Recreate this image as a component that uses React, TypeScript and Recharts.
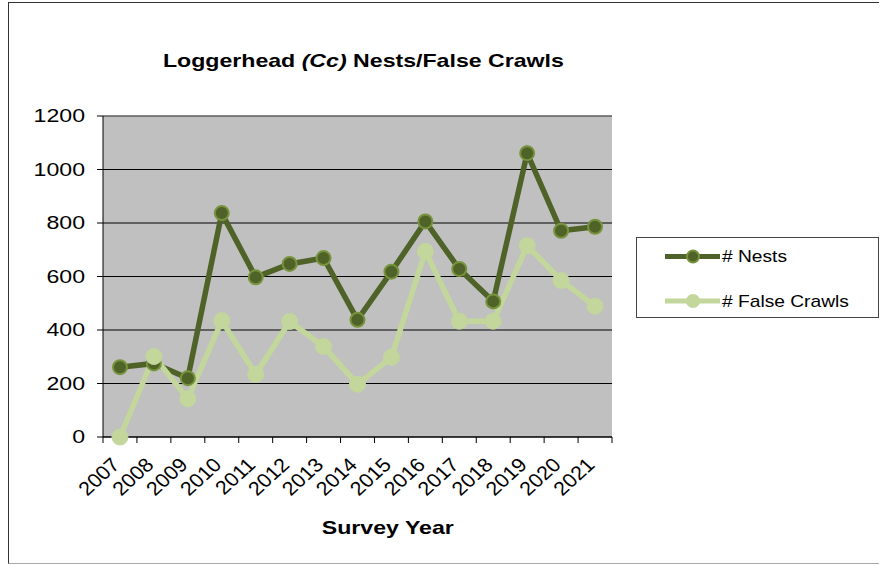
import React from 'react';
import { LineChart, Line, XAxis, YAxis, CartesianGrid, Legend, ReferenceLine } from 'recharts';

const years = ['2007', '2008', '2009', '2010', '2011', '2012', '2013', '2014', '2015', '2016', '2017', '2018', '2019', '2020', '2021'];
const nests = [261, 275, 220, 837, 597, 647, 669, 438, 618, 806, 628, 507, 1061, 771, 786];
const falseCrawls = [0, 301, 143, 435, 234, 432, 338, 197, 298, 694, 433, 433, 715, 585, 489];
const yTicks = [0, 200, 400, 600, 800, 1000, 1200];
const seriesNames = ['# Nests', '# False Crawls'];

const data = years.map((y, i) => ({ year: y, nests: nests[i], falseCrawls: falseCrawls[i] }));

const W = 870;
const H = 560;
const M = { top: 113, right: 267, left: 0, bottom: 0 };
const YW = 94;
const PLOT_W = W - M.left - M.right - YW;
const SX = 1.25;
const FONT = '"Liberation Sans", Arial, sans-serif';
const DARK = '#4F6228';
const DARK_EDGE = '#77933C';
const LIGHT = '#C3D69B';

const XTick = (props: any) => {
  const { x, y, payload, index } = props;
  const bw = PLOT_W / years.length;
  const lx = x - bw / 2;
  return (
    <g>
      <line x1={lx} x2={lx} y1={y} y2={y + 6} stroke="#000" strokeWidth={1} />
      {index === years.length - 1 && (
        <line x1={x + bw / 2} x2={x + bw / 2} y1={y} y2={y + 6} stroke="#000" strokeWidth={1} />
      )}
      <text
        transform={`translate(${x + 1},${y + 29}) scale(1.1,1) rotate(-45)`}
        textAnchor="end"
        fontSize={19.5}
        fill="#000"
        fontFamily={FONT}
      >
        {payload.value}
      </text>
    </g>
  );
};

const YTick = (props: any) => {
  const { x, y, payload } = props;
  return (
    <text
      transform={`translate(${x - 10},${y}) scale(${SX},1)`}
      textAnchor="end"
      dy="0.35em"
      fontSize={18.5}
      fill="#000"
      fontFamily={FONT}
    >
      {payload.value}
    </text>
  );
};

const LegendBox = () => {
  const colors = [DARK, LIGHT];
  const edges = [DARK_EDGE, LIGHT];
  const rows = [19.5, 64];
  return (
    <svg width={243} height={81} style={{ display: 'block' }}>
      <rect x={0.5} y={0.5} width={242} height={80} fill="#fff" stroke="#444" strokeWidth={1} />
      {seriesNames.map((n, i) => (
        <g key={n}>
          <line x1={29} x2={84} y1={rows[i]} y2={rows[i]} stroke={colors[i]} strokeWidth={5} />
          <circle cx={57} cy={rows[i]} r={6} fill={colors[i]} stroke={edges[i]} strokeWidth={2} />
          <text
            transform={`translate(86,${rows[i]}) scale(1.2,1)`}
            dy="0.35em"
            fontSize={16}
            fill="#000"
            fontFamily={FONT}
          >
            {n}
          </text>
        </g>
      ))}
    </svg>
  );
};

export default function App() {
  return (
    <div
      style={{
        position: 'fixed',
        left: 8,
        top: 2,
        width: W,
        height: H,
        borderTop: '1px solid #333',
        borderLeft: '1px solid #333',
        borderBottom: '1px solid #aaa',
        background: '#fff',
        fontFamily: FONT,
      }}
    >
      <div
        style={{
          position: 'absolute',
          left: 0,
          top: 49,
          width: 2 * 354.5,
          textAlign: 'center',
          fontSize: 18.5,
          lineHeight: '18.5px',
          fontWeight: 'bold',
          color: '#000',
          whiteSpace: 'nowrap',
        }}
      >
        <span style={{ display: 'inline-block', transform: `scaleX(${SX})` }}>
          Loggerhead <i>(Cc)</i> Nests/False Crawls
        </span>
      </div>
      <div
        style={{
          position: 'absolute',
          left: 0,
          top: 516,
          width: 2 * 379,
          textAlign: 'center',
          fontSize: 18.5,
          lineHeight: '18.5px',
          fontWeight: 'bold',
          color: '#000',
          whiteSpace: 'nowrap',
        }}
      >
        <span style={{ display: 'inline-block', transform: `scaleX(${SX})` }}>Survey Year</span>
      </div>
      <LineChart width={W} height={H} data={data} margin={M}>
        <CartesianGrid
          yAxisId="l"
          vertical={false}
          stroke="#000"
          strokeWidth={1}
          fill="#C0C0C0"
          fillOpacity={1}
        />
        <XAxis
          dataKey="year"
          scale="band"
          interval={0}
          height={126}
          tickSize={0}
          tickMargin={0}
          tickLine={false}
          axisLine={{ stroke: '#000', strokeWidth: 1 }}
          tick={<XTick />}
        />
        <YAxis
          yAxisId="l"
          width={YW}
          domain={[0, 1200]}
          ticks={yTicks}
          interval={0}
          tickSize={6}
          tickMargin={2}
          tickLine={{ stroke: '#000' }}
          axisLine={{ stroke: '#000', strokeWidth: 1 }}
          tick={<YTick />}
        />
        <YAxis
          yAxisId="r"
          orientation="right"
          width={0}
          domain={[0, 1200]}
          tick={false}
          tickLine={false}
          axisLine={{ stroke: '#888', strokeWidth: 1 }}
        />
        <ReferenceLine yAxisId="l" y={1200} stroke="#888" strokeWidth={1} />
        <Line
          yAxisId="l"
          dataKey="nests"
          name={seriesNames[0]}
          stroke={DARK}
          strokeWidth={5.5}
          dot={{ r: 7, fill: DARK, stroke: DARK_EDGE, strokeWidth: 2 }}
          activeDot={false}
          isAnimationActive={false}
        />
        <Line
          yAxisId="l"
          dataKey="falseCrawls"
          name={seriesNames[1]}
          stroke={LIGHT}
          strokeWidth={5.5}
          dot={{ r: 8, fill: LIGHT, stroke: LIGHT, strokeWidth: 1 }}
          activeDot={false}
          isAnimationActive={false}
        />
        <Legend
          layout="horizontal"
          align="center"
          verticalAlign="middle"
          wrapperStyle={{ left: 627, top: 234, width: 243, height: 81 }}
          content={<LegendBox />}
        />
      </LineChart>
    </div>
  );
}
